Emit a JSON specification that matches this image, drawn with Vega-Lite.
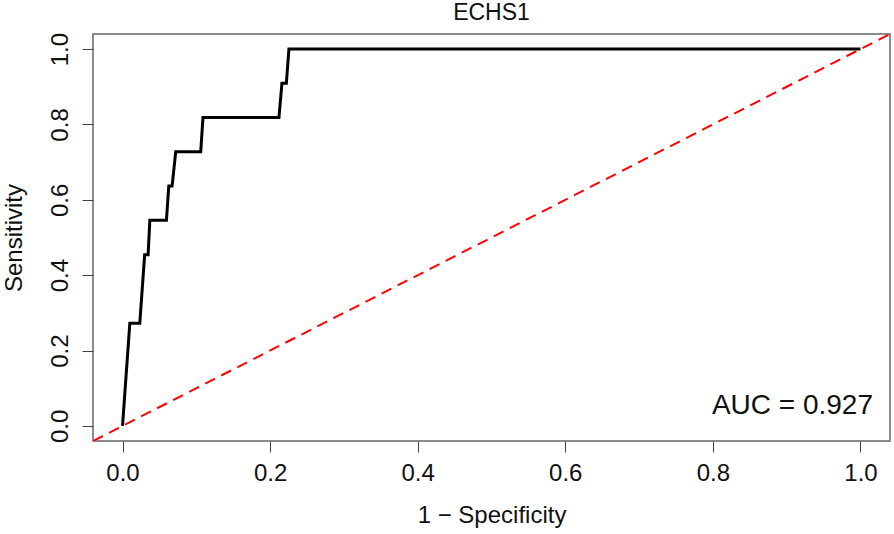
{
  "$schema": "https://vega.github.io/schema/vega-lite/v6.json",
  "width": 797,
  "height": 407,
  "autosize": {"type": "none"},
  "padding": {"left": 93, "top": 34, "right": 4, "bottom": 93},
  "background": "white",
  "title": {"text": "ECHS1", "anchor": "middle", "fontSize": 23, "fontWeight": "normal", "font": "Liberation Sans", "color": "#111", "offset": 7},
  "config": {
    "view": {"stroke": "#666", "strokeWidth": 1.5},
    "axis": {"grid": false, "domain": false, "tickColor": "#444", "tickSize": 11, "tickWidth": 1, "labelFont": "Liberation Sans", "labelFontSize": 24, "labelColor": "#111", "titleFont": "Liberation Sans", "titleFontSize": 24, "titleFontWeight": "normal", "titleColor": "#111"}
  },
  "layer": [
    {
      "data": {"values": [
        {"fpr": 0.0, "tpr": 0.0},
        {"fpr": 0.0099, "tpr": 0.2727},
        {"fpr": 0.0234, "tpr": 0.2727},
        {"fpr": 0.030, "tpr": 0.4545},
        {"fpr": 0.0347, "tpr": 0.4545},
        {"fpr": 0.037, "tpr": 0.5455},
        {"fpr": 0.0595, "tpr": 0.5455},
        {"fpr": 0.0627, "tpr": 0.6364},
        {"fpr": 0.0672, "tpr": 0.6364},
        {"fpr": 0.0721, "tpr": 0.7273},
        {"fpr": 0.106, "tpr": 0.7273},
        {"fpr": 0.109, "tpr": 0.8182},
        {"fpr": 0.212, "tpr": 0.8182},
        {"fpr": 0.216, "tpr": 0.9091},
        {"fpr": 0.222, "tpr": 0.9091},
        {"fpr": 0.2255, "tpr": 1.0},
        {"fpr": 1.0, "tpr": 1.0}
      ]},
      "mark": {"type": "line", "color": "black", "strokeWidth": 3, "clip": true},
      "encoding": {
        "x": {"field": "fpr", "type": "quantitative", "scale": {"domain": [-0.04, 1.04], "nice": false, "zero": false},
              "axis": {"title": "1 \u2212 Specificity", "values": [0, 0.2, 0.4, 0.6, 0.8, 1.0], "format": ".1f", "labelPadding": 9, "titlePadding": 18}},
        "y": {"field": "tpr", "type": "quantitative", "scale": {"domain": [-0.04, 1.04], "nice": false, "zero": false},
              "axis": {"title": "Sensitivity", "values": [0, 0.2, 0.4, 0.6, 0.8, 1.0], "format": ".1f", "labelAngle": 270, "labelAlign": "center", "labelBaseline": "bottom", "labelPadding": 10, "titlePadding": 22}},
        "order": {"field": "fpr"}
      }
    },
    {
      "data": {"values": [{"fpr": -0.04, "tpr": -0.04}, {"fpr": 1.04, "tpr": 1.04}]},
      "mark": {"type": "line", "color": "#FF0000", "strokeWidth": 2, "strokeDash": [11, 7], "clip": true},
      "encoding": {
        "x": {"field": "fpr", "type": "quantitative"},
        "y": {"field": "tpr", "type": "quantitative"}
      }
    },
    {
      "data": {"values": [{"label": "AUC = 0.927"}]},
      "mark": {"type": "text", "align": "right", "baseline": "middle", "fontSize": 28, "font": "Liberation Sans", "color": "#111"},
      "encoding": {
        "x": {"datum": 1.017, "type": "quantitative"},
        "y": {"datum": 0.052, "type": "quantitative"},
        "text": {"field": "label"}
      }
    }
  ]
}
